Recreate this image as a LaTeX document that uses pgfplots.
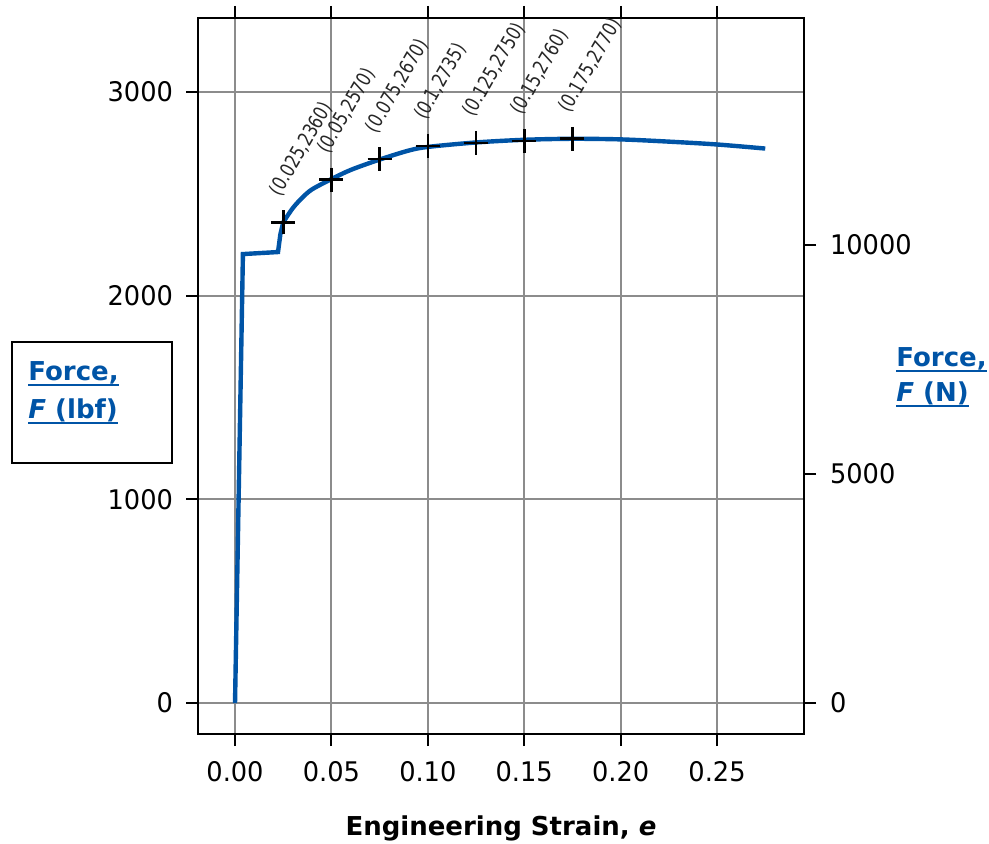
\documentclass[border=0pt]{standalone}
\usepackage{fontspec}
\setmainfont{DejaVu Sans}[FakeStretch=0.95]
\newfontfamily\labfont{DejaVu Sans}
\newfontfamily\annfont{DejaVu Sans}[FakeStretch=0.8]
\usepackage{pgfplots}
\pgfplotsset{compat=1.18}
\definecolor{curveblue}{RGB}{0,84,166}
\definecolor{gridgray}{RGB}{140,140,140}
\newcommand\ul[1]{\setbox0\hbox{#1}\rlap{\rule[-2.6pt]{\wd0}{1.1pt}}\box0}

\begin{document}
\begin{tikzpicture}
\path[use as bounding box] (-99pt,-55pt) rectangle (395.5pt,367pt);
\begin{axis}[
    scale only axis, width=303pt, height=358pt,
    xmin=-0.0192, xmax=0.2951, ymin=-152, ymax=3363,
    xtick={0,0.05,0.1,0.15,0.2,0.25}, ytick={0,1000,2000,3000},
    xtick pos=both, ytick pos=left, xticklabel pos=lower,
    tick align=outside, major tick length=6pt,
    grid=major, grid style={gridgray, line width=1pt},
    axis line style={line width=1pt},
    tick style={black, line width=1pt},
    tick label style={font=\fontsize{13.5}{16}\selectfont},
    yticklabel style={xshift=-3pt},
    xticklabel style={yshift=-4pt, /pgf/number format/.cd, fixed, fixed zerofill, precision=2},
    /pgf/number format/assume math mode=true,
    /pgf/number format/1000 sep={},
    clip=false,
  ]
\addplot[curveblue, line width=2.2pt] coordinates {
  (0,0) (0.0041,2204) (0.0223,2214) (0.0235,2300) (0.025,2360)};
\addplot[curveblue, line width=2.2pt, smooth] coordinates {
  (0.025,2360) (0.03,2430) (0.035,2482) (0.04,2522) (0.05,2572)
  (0.06,2617) (0.075,2668) (0.09,2712) (0.1,2730) (0.125,2752)
  (0.15,2765) (0.175,2770) (0.2,2767) (0.225,2756) (0.25,2742) (0.275,2722)};
\addplot[only marks, mark=+, mark size=6pt, mark options={black, line width=1.3pt},
    point meta=explicit symbolic, nodes near coords,
    nodes near coords style={xshift=0pt, yshift=11pt, rotate=60,
      anchor=south west, inner sep=0pt, black!85,
      font=\annfont\fontsize{10}{12}\selectfont}]
  table [meta=lab] {
  x     y    lab
  0.025 2360 (0.025,2360)
  0.05  2570 (0.05,2570)
  0.075 2670 (0.075,2670)
  0.1   2735 (0.1,2735)
  0.125 2750 (0.125,2750)
  0.15  2760 (0.15,2760)
  0.175 2770 (0.175,2770)
};
\end{axis}
\begin{axis}[
    scale only axis, width=303pt, height=358pt,
    xmin=-0.0192, xmax=0.2951, ymin=-676, ymax=14959,
    axis x line=none, axis y line*=right,
    ytick={0,5000,10000}, ytick pos=right,
    scaled y ticks=false,
    tick align=outside, major tick length=6pt,
    axis line style={line width=1pt, -},
    tick style={black, line width=1pt},
    tick label style={font=\fontsize{13.5}{16}\selectfont},
    yticklabel style={xshift=3.5pt},
    /pgf/number format/assume math mode=true,
    /pgf/number format/1000 sep={},
  ]
\end{axis}
\draw[line width=1pt] (-93pt,135.5pt) rectangle (-13pt,196pt);
\begin{scope}[every node/.style={anchor=base west, inner sep=0pt, text=curveblue,
    font=\labfont\bfseries\fontsize{13}{15}\selectfont}]
\node at (-85pt,176.5pt) {\ul{Force,}};
\node at (-85pt,157.5pt) {\ul{\textit{F} (lbf)}};
\node at (349pt,183.5pt) {\ul{Force,}};
\node at (349pt,166pt) {\ul{\textit{F} (N)}};
\end{scope}
\node[anchor=base, inner sep=0pt, font=\labfont\bfseries\fontsize{13}{15}\selectfont]
  at (151.5pt,-51pt) {Engineering Strain, \textit{e}};
\end{tikzpicture}
\end{document}
